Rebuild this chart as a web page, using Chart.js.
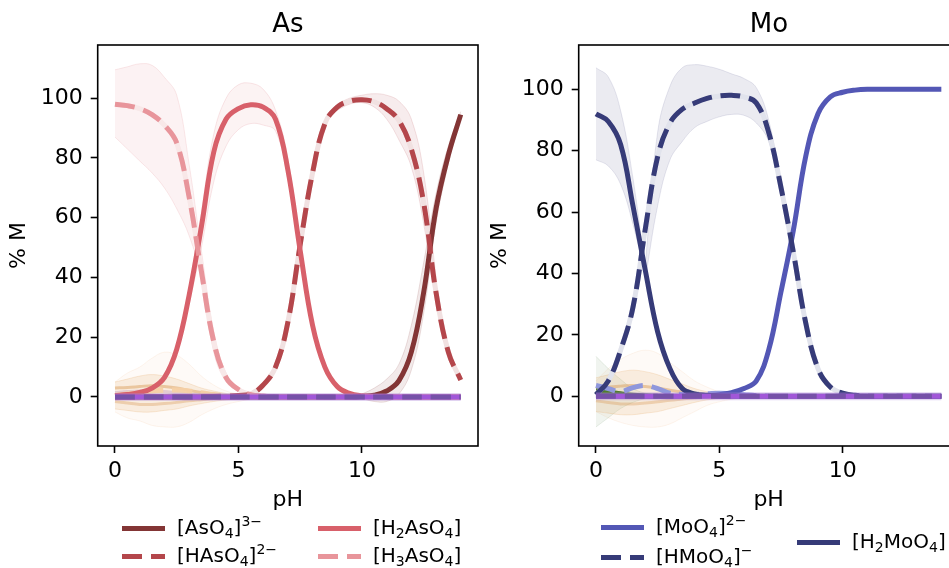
<!DOCTYPE html>
<html>
<head>
<meta charset="utf-8">
<script src="https://cdn.jsdelivr.net/npm/chart.js@4.4.0/dist/chart.umd.min.js"></script>
<style>
  html, body { margin: 0; padding: 0; background: #fff; overflow: hidden; width: 949px; height: 568px; position: relative; font-family: "DejaVu Sans", sans-serif; color: #000; }
  canvas { position: absolute; top: 0; }
  .title { position: absolute; font-size: 26px; line-height: 26px; transform: translateX(-50%); white-space: nowrap; }
  .lbl { position: absolute; font-size: 20px; line-height: 20px; white-space: nowrap; }
  .sw { position: absolute; height: 5px; width: 43px; }
  sub, sup { font-size: 70%; line-height: 0; position: relative; vertical-align: baseline; }
  sub { top: 0.3em; }
  sup { top: -0.6em; }
</style>
</head>
<body>
<canvas id="chartAs" width="480" height="568" style="left:0"></canvas>
<canvas id="chartMo" width="490" height="568" style="left:480px"></canvas>
<div class="title" style="left:288px;top:10px">As</div>
<div class="title" style="left:769px;top:10px">Mo</div>
<div id="legend"></div>
<script>
// pH grid used by the main species curves
const pH = [0, 0.5, 1, 1.5, 2, 2.5, 3, 3.5, 4, 4.5, 5, 5.5, 6, 6.5, 7, 7.5, 8, 8.5, 9, 9.5, 10, 10.5, 11, 11.5, 12, 12.5, 13, 13.5, 14];
const xTicks = [0, 5, 10];
const yTicks = [0, 20, 40, 60, 80, 100];

// As species (% M)
const asAsO4   = [0,0,0,0,0,0,0,0,0,0,0,0,0,0,0,0,0,0,0,0, 0.2,0.6,2,5.5,15,35,63,81,94.5];
const asHAsO4  = [0,0,0,0,0,0,0,0.1,0.2,0.3,0.5,1,4,10,25,51,75,91.5,97,99,99.5,98.8,96.5,92.5,83,65,35,15,5.7];
const asH2AsO4 = [0.5,0.8,1.5,3,6.5,16,34,57,82,93,96.5,97.8,97,93,76,49,24,10,3.5,1.2,0.4,0.2,0.1,0,0,0,0,0,0];
const asH3AsO4 = [98,97.5,96.5,94.5,91,85,67,42,18.5,6.5,2.5,0.8,0.3,0.1,0,0,0,0,0,0,0,0,0,0,0,0,0,0,0];
const asZero   = [0,0,0,0,0,0,0,0,0,0,0,0,0,0,0,0,0,0,0,0,0,0,0,0,0,0,0,0,0];

// As uncertainty bands
const asBandH3X  = [0,0.5,1,1.5,2,2.5,3,3.5,4,4.5,5,5.5];
const asBandH3Hi = [109.5,110.5,111.5,111,107,101,78,49,22,8,3,1];
const asBandH3Lo = [87,83,79,75,70,63,54,40,15,5,2,0.5];
const asBandH2X  = [3,3.5,4,4.5,5,5.5,6,6.5,7,7.5];
const asBandH2Hi = [36,62,88,100,104.5,105,103,96,80,51];
const asBandH2Lo = [31,50,72,84,89.5,91.5,91,89,73,47];
const asBandHX   = [9,9.5,10,10.5,11,11.5,12,12.5,13];
const asBandHHi  = [98,100,101,101.5,101,99,93,75,40];
const asBandHLo  = [96,98,98.5,97,93,86,77,58,31];
const asBand3X   = [10,10.5,11,11.5,12,12.5,13,13.5,14];
const asBand3Hi  = [1,3,6,11,24,45,68,84,95.5];
const asBand3Lo  = [-0.5,-1.5,-1.5,1,9,28,58,78,93.5];

// minor As species near zero
const minorX      = [0,0.5,1,1.5,2,2.5,3,3.5,4,4.5,5,5.5,6,6.5,7];
const asMinorHi   = [5,6,7,7.5,7,6,4.5,3,2,1.2,0.7,0.4,0.2,0.1,0];
const asMinorLo   = [-4,-4.5,-5,-5,-4.5,-4,-3,-2.2,-1.5,-1,-0.6,-0.3,-0.1,0,0];
const asWideHi    = [5,8,10,13,15,14,11,7,4,2,1,0.5,0.2,0.1,0];
const asWideLo    = [-5,-7,-8,-9.5,-10,-10,-8.5,-6,-4,-2.5,-1.5,-0.8,-0.4,-0.1,0];
const asMinorA    = [3,3.2,3.5,3.8,3.5,3,2.2,1.5,1,0.6,0.3,0.1,0,0,0];
const asMinorB    = [1.5,1.8,2,2,1.8,1.4,1,0.6,0.4,0.2,0.1,0,0,0,0];
const asMinorC    = [0.5,1,1.5,2,2.3,2.3,2,1.4,0.8,0.4,0.2,0.1,0,0,0];
const asMinorD    = [-1.5,-2,-2.5,-2.5,-2.2,-1.8,-1.3,-0.9,-0.5,-0.3,-0.1,0,0,0,0];

// Mo species (% M)
const moMoO4   = [0,0,0,0,0,0,0,0,0,0.2,0.5,1.2,2.5,5,15,34,54,78,92,97.5,99,99.7,100,100,100,100,100,100,100];
const moHMoO4  = [0.5,5,15,29,54.5,78,89,93.5,95.5,97,97.8,98,97.5,95.5,86,68,47,24,9,3,1,0.3,0,0,0,0,0,0,0];
const moH2MoO4 = [92,89.5,82,62,41,21,9,2.5,0.8,0.3,0.1,0,0,0,0,0,0,0,0,0,0,0,0,0,0,0,0,0,0];
const moZero   = [0,0,0,0,0,0,0,0,0,0,0,0,0,0,0,0,0,0,0,0,0,0,0,0,0,0,0,0,0];

// Mo uncertainty bands
const moBandH2X  = [0,0.5,1,1.5,2,2.5];
const moBandH2Hi = [107,104,93,71,43,22];
const moBandH2Lo = [77,75,69,56,39,20.5];
const moBandHX   = [2,2.5,3,3.5,4,4.5,5,5.5,6,6.5,7,7.5];
const moBandHHi  = [43,86,101,107,108,107.5,106.5,105,103.5,100.5,90,69];
const moBandHLo  = [38,62,77,83,87.5,89.5,91,91.8,91.5,89,83,67];

// minor Mo species near zero
const moGreenX    = [0,0.5,1,1.5,2,2.5];
const moGreenHi   = [13,9,5.5,2.5,1,0.3];
const moGreenLo   = [-10,-7,-4,-2,-0.8,-0.2];
const moGreen     = [1.8,1.4,0.8,0.3,0.1,0];
const moLightBlue = [3.5,2.5,1.5,2.8,3.5,2.5,1,0.6,0.6,0.8,1,0.8,0.5,0.2,0];
const moMinorHi   = [6,7,8,8.5,8,7,5.5,4,2.5,1.5,0.8,0.4,0.2,0.1,0];
const moMinorLo   = [-5,-5.5,-6,-6,-5.5,-5,-4,-3,-2,-1.2,-0.7,-0.4,-0.2,-0.1,0];
const moWideHi    = [5,9,12,14,15,14,11,8,5,3,1.5,0.7,0.3,0.1,0];
const moWideLo    = [-5,-7,-8.5,-9.5,-10,-10,-9,-7,-5,-3,-1.8,-1,-0.5,-0.2,0];
const moMinorA    = [2.5,3,3.3,3.5,3.2,2.7,2,1.4,0.9,0.5,0.3,0.1,0,0,0];
const moMinorB    = [-1.5,-2,-2.5,-2.5,-2.2,-1.8,-1.3,-0.9,-0.5,-0.3,-0.1,0,0,0,0];

// legend labels
const asLabels = ["[AsO<sub>4</sub>]<sup>3\u2212</sup>", "[HAsO<sub>4</sub>]<sup>2\u2212</sup>", "[H<sub>2</sub>AsO<sub>4</sub>]", "[H<sub>3</sub>AsO<sub>4</sub>]"];
const moLabels = ["[MoO<sub>4</sub>]<sup>2\u2212</sup>", "[HMoO<sub>4</sub>]<sup>\u2212</sup>", "[H<sub>2</sub>MoO<sub>4</sub>]"];

const C_AsO4 = "#833535", C_HAsO4 = "#b4464b", C_H2AsO4 = "#d8606a", C_H3AsO4 = "#e8959b";
const C_MoO4 = "#5357b5", C_HMoO4 = "#363b78";
const DASH = [20, 8.7];
const LW = 5;

Chart.defaults.font.family = "'DejaVu Sans', sans-serif";
Chart.defaults.color = "#000";

function pts(xs, ys) {
  return xs.map((x, i) => ({ x: x, y: ys[i] }));
}

function line(xs, ys, color, width, dash, order) {
  return {
    data: pts(xs, ys), borderColor: color, borderWidth: width, borderDash: dash || [],
    pointRadius: 0, fill: false, tension: 0.4, order: order
  };
}

function band(xs, hi, lo, fillColor, edgeColor, order) {
  return [
    { data: pts(xs, hi), borderColor: edgeColor, borderWidth: 1, pointRadius: 0, fill: false, tension: 0.4, order: order },
    { data: pts(xs, lo), borderColor: edgeColor, borderWidth: 1, pointRadius: 0, fill: "-1", backgroundColor: fillColor, tension: 0.4, order: order }
  ];
}

// full box around the plot area, like matplotlib spines
const boxPlugin = {
  id: "box",
  afterDraw(chart) {
    const { ctx, chartArea: a } = chart;
    ctx.save();
    ctx.strokeStyle = "#000";
    ctx.lineWidth = 1.6;
    ctx.strokeRect(a.left, a.top, a.right - a.left, a.bottom - a.top);
    ctx.restore();
  }
};

function makeChart(id, datasets, yMin, yMax, yWidth, padRight, yTitlePad) {
  return new Chart(document.getElementById(id), {
    type: "line",
    data: { datasets: datasets },
    plugins: [boxPlugin],
    options: {
      responsive: false,
      animation: false,
      devicePixelRatio: 1,
      layout: { padding: { top: 45, left: 0, right: padRight, bottom: 52 } },
      plugins: { legend: { display: false }, tooltip: { enabled: false } },
      scales: {
        x: {
          type: "linear", min: -0.7, max: 14.7,
          afterBuildTicks: (s) => { s.ticks = xTicks.map((v) => ({ value: v })); },
          afterFit: (s) => { s.height = 70; },
          grid: { display: true, drawOnChartArea: false, drawTicks: true, tickLength: 7, tickWidth: 1.6, color: "#000" },
          border: { display: false },
          ticks: { color: "#000", font: { size: 22 }, padding: 5, maxRotation: 0, autoSkip: false },
          title: { display: true, text: "pH", color: "#000", font: { size: 22 }, padding: { top: 0, bottom: 3 } }
        },
        y: {
          type: "linear", min: yMin, max: yMax,
          afterBuildTicks: (s) => { s.ticks = yTicks.map((v) => ({ value: v })); },
          afterFit: (s) => { s.width = yWidth; },
          grid: { display: true, drawOnChartArea: false, drawTicks: true, tickLength: 7, tickWidth: 1.6, color: "#000" },
          border: { display: false },
          ticks: { color: "#000", font: { size: 22 }, padding: 8, autoSkip: false },
          title: { display: true, text: "% M", color: "#000", font: { size: 22 }, padding: { top: yTitlePad, bottom: 0 } }
        }
      }
    }
  });
}

const orangeFill = "rgba(226,165,95,0.16)", orangeEdge = "rgba(226,165,95,0.22)";
const wideFill = "rgba(240,190,140,0.07)", wideEdge = "rgba(240,190,140,0.15)";

const asSets = [].concat(
  band(minorX, asWideHi, asWideLo, wideFill, wideEdge, 30),
  band(minorX, asMinorHi, asMinorLo, orangeFill, orangeEdge, 29),
  band(asBandH3X, asBandH3Hi, asBandH3Lo, "rgba(232,149,155,0.12)", "rgba(232,149,155,0.2)", 25),
  band(asBandH2X, asBandH2Hi, asBandH2Lo, "rgba(216,96,106,0.08)", "rgba(216,96,106,0.15)", 25),
  band(asBandHX, asBandHHi, asBandHLo, "rgba(180,70,75,0.1)", "rgba(180,70,75,0.15)", 25),
  band(asBand3X, asBand3Hi, asBand3Lo, "rgba(131,53,53,0.1)", "rgba(131,53,53,0.15)", 25),
  [
    line(minorX, asMinorA, "rgba(214,150,80,0.45)", 3, [], 15),
    line(minorX, asMinorB, "rgba(200,160,190,0.45)", 3, [], 15),
    line(minorX, asMinorD, "rgba(214,150,80,0.35)", 3, [], 15),
    line(minorX, asMinorC, "rgba(246,208,165,0.95)", LW, DASH, 14),
    line(pH, asHAsO4, "#f1e1e1", LW, [], 8),
    line(pH, asH3AsO4, "#f8e8e8", LW, [], 8),
    line(pH, asAsO4, C_AsO4, LW, [], 4),
    line(pH, asHAsO4, C_HAsO4, LW, DASH, 3),
    line(pH, asH2AsO4, C_H2AsO4, LW, [], 2),
    line(pH, asH3AsO4, C_H3AsO4, LW, DASH, 1),
    line(pH, asZero, "rgba(170,130,215,0.35)", 8, [], 0.7),
    line(pH, asZero, "#a157d8", LW, [], 0.5),
    line(pH, asZero, "#7651a8", LW, DASH, 0)
  ]
);

const moSets = [].concat(
  band(minorX, moWideHi, moWideLo, wideFill, wideEdge, 30),
  band(moGreenX, moGreenHi, moGreenLo, "rgba(110,150,100,0.1)", "rgba(110,150,100,0.15)", 29),
  band(minorX, moMinorHi, moMinorLo, orangeFill, orangeEdge, 28),
  band(moBandH2X, moBandH2Hi, moBandH2Lo, "rgba(54,59,120,0.1)", "rgba(54,59,120,0.12)", 25),
  band(moBandHX, moBandHHi, moBandHLo, "rgba(54,59,120,0.1)", "rgba(54,59,120,0.12)", 25),
  [
    line(minorX, moMinorA, "rgba(214,150,80,0.45)", 3, [], 15),
    line(minorX, moMinorB, "rgba(214,150,80,0.35)", 3, [], 15),
    line(moGreenX, moGreen, "#4f7d2c", LW, [], 9),
    line(minorX, moLightBlue, "#8f97dc", LW, DASH, 7),
    line(pH, moHMoO4, "#e1e3ec", LW, [], 8),
    line(pH, moMoO4, C_MoO4, LW, [], 3),
    line(pH, moHMoO4, C_HMoO4, LW, DASH, 2),
    line(pH, moH2MoO4, C_HMoO4, LW, [], 1),
    line(pH, moZero, "rgba(170,130,215,0.35)", 8, [], 0.7),
    line(pH, moZero, "#a157d8", LW, [], 0.5),
    line(pH, moZero, "#7651a8", LW, DASH, 0)
  ]
);

makeChart("chartAs", asSets, -16.4, 117.8, 97.7, 2, 6);
makeChart("chartMo", moSets, -16.2, 114.4, 98.7, 11.4, 7);

// legend, built as html text under each plot
const legendItems = [
  { x: 122, y: 528, color: C_AsO4, dashed: false, text: asLabels[0] },
  { x: 122, y: 556, color: C_HAsO4, dashed: true, text: asLabels[1] },
  { x: 318, y: 528, color: C_H2AsO4, dashed: false, text: asLabels[2] },
  { x: 318, y: 556, color: C_H3AsO4, dashed: true, text: asLabels[3] },
  { x: 601, y: 527, color: C_MoO4, dashed: false, text: moLabels[0] },
  { x: 601, y: 557, color: C_HMoO4, dashed: true, text: moLabels[1] },
  { x: 797, y: 542, color: C_HMoO4, dashed: false, text: moLabels[2] }
];
const legend = document.getElementById("legend");
legendItems.forEach((it) => {
  const sw = document.createElement("div");
  sw.className = "sw";
  sw.style.left = it.x + "px";
  sw.style.top = (it.y - 2.5) + "px";
  sw.style.background = it.dashed
    ? `repeating-linear-gradient(90deg, ${it.color} 0 20px, transparent 20px 28.7px)`
    : it.color;
  legend.appendChild(sw);
  const lb = document.createElement("div");
  lb.className = "lbl";
  lb.style.left = (it.x + 55) + "px";
  lb.style.top = (it.y - 11) + "px";
  lb.innerHTML = it.text;
  legend.appendChild(lb);
});
</script>
</body>
</html>
